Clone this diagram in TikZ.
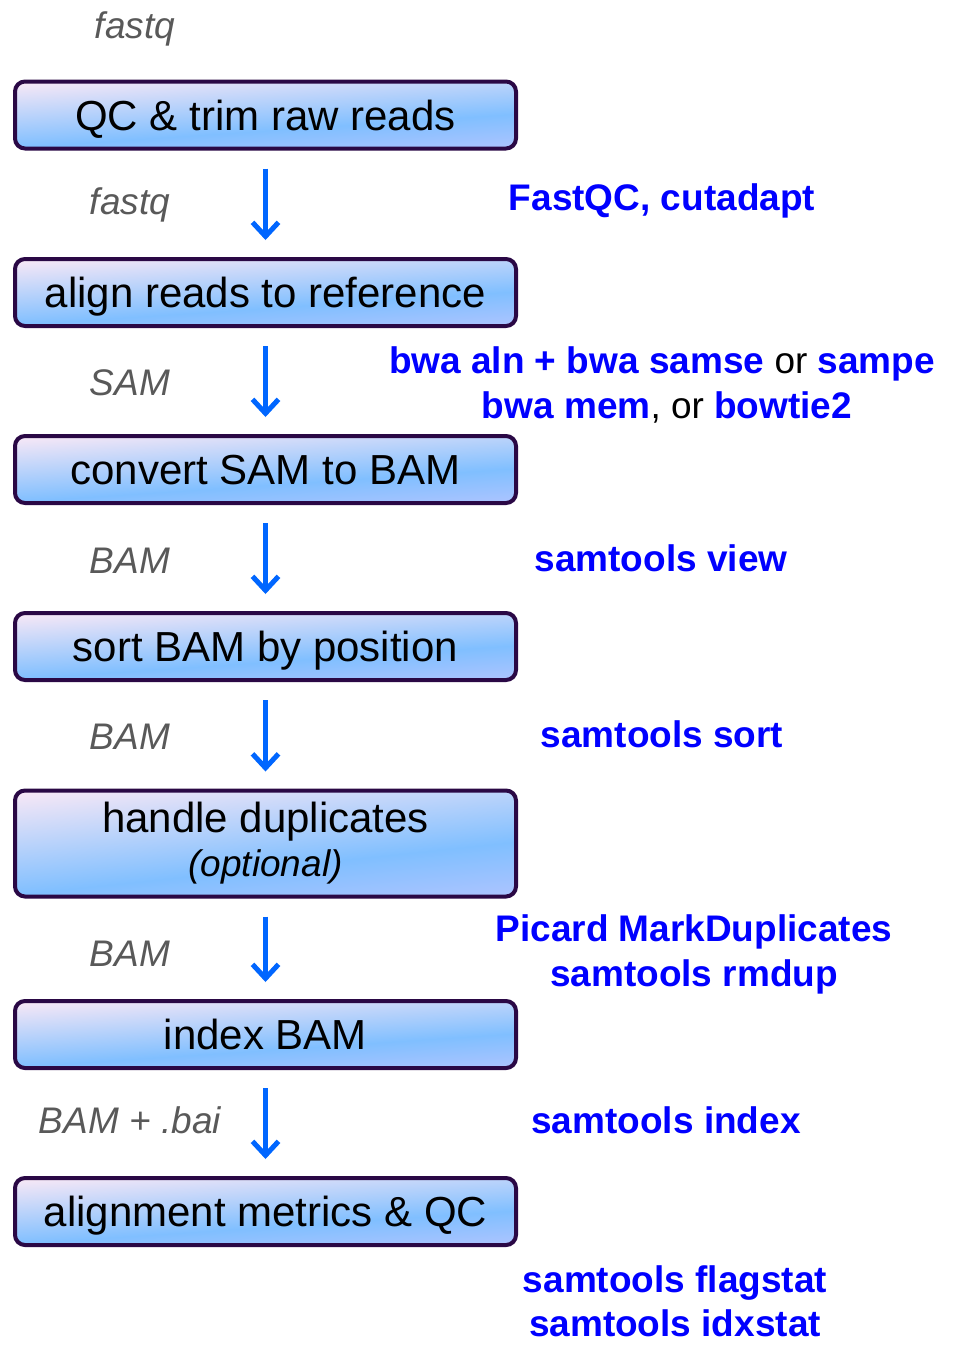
\documentclass[tikz,border=0pt]{standalone}
\usepackage{fontspec}
\setmainfont{Liberation Sans}
\usetikzlibrary{arrows.meta}
\definecolor{boxborder}{HTML}{2A0845}
\definecolor{arrowblue}{HTML}{0066FF}
\definecolor{toolblue}{HTML}{0000FF}
\definecolor{fmtgray}{HTML}{595959}
\definecolor{shadepink}{HTML}{F8E8F6}
\definecolor{shadeblue}{HTML}{80BFFF}
\definecolor{shadeend}{HTML}{ACC4FF}
\pgfdeclareverticalshading{boxshade}{100bp}{color(0bp)=(shadeend); color(28bp)=(shadeend); color(43bp)=(shadeblue); color(72bp)=(shadepink); color(100bp)=(shadepink)}
\pgfdeclarelayer{bglayer}
\pgfsetlayers{bglayer,main}
\newcommand{\boxshading}[2]{%
  \begin{scope}
    \clip[rounded corners=8pt] ([shift={(2pt,2pt)}]#1.south west) rectangle ([shift={(-2pt,-2pt)}]#1.north east);
    \begin{scope}[transform canvas={shift={(#1.center)}, xscale=5.01, yscale=#2/100, rotate=26.6}]
      \shade[shading=boxshade] (-75pt,-75pt) rectangle (75pt,75pt);
    \end{scope}
  \end{scope}}
\begin{document}
\begin{tikzpicture}[x=1pt,y=-1pt,
  stepbox/.style={draw=boxborder, line width=4pt, rounded corners=10pt,
    minimum width=501pt, minimum height=67pt, inner sep=0pt,
    font=\fontsize{42}{44}\selectfont},
  onebox/.style={stepbox, text height=30pt, text depth=0pt},
  arr/.style={draw=arrowblue, line width=5pt,
    -{Straight Barb[length=14pt,width=26pt]}, shorten <=18pt, shorten >=17pt},
  fmt/.style={font=\fontsize{37}{40}\selectfont\itshape, text=fmtgray, anchor=base, inner sep=0pt},
  tool/.style={font=\fontsize{37}{40}\selectfont\bfseries, text=toolblue, anchor=base, inner sep=0pt}
]
\useasboundingbox (0,0) rectangle (955,1345);

% boxes
\node[onebox] (b1) at (265.5,115) {QC \& trim raw reads};
\node[onebox] (b2) at (265.5,292.5) {align reads to reference};
\node[onebox] (b3) at (265.5,469.5) {convert SAM to BAM};
\node[onebox] (b4) at (265.5,646.5) {sort BAM by position};
\node[stepbox, minimum height=106pt, align=center] (b5) at (265.5,843.5)
  {handle duplicates\\[0pt]{\fontsize{37}{44}\selectfont\itshape (optional)}};
\node[onebox] (b6) at (265.5,1034.5) {index BAM};
\node[onebox] (b7) at (265.5,1211.5) {alignment metrics \& QC};

\begin{pgfonlayer}{bglayer}
  \boxshading{b1}{67}
  \boxshading{b2}{67}
  \boxshading{b3}{67}
  \boxshading{b4}{67}
  \boxshading{b5}{106}
  \boxshading{b6}{67}
  \boxshading{b7}{67}
\end{pgfonlayer}

% arrows
\draw[arr] (b1) -- (b2);
\draw[arr] (b2) -- (b3);
\draw[arr] (b3) -- (b4);
\draw[arr] (b4) -- (b5);
\draw[arr] (b5) -- (b6);
\draw[arr] (b6) -- (b7);

% format labels
\node[fmt] (f0) at (135,38) {fastq};
\node[fmt] (f1) at (130,214) {fastq};
\node[fmt] (f2) at (130,395) {SAM};
\node[fmt] (f3) at (130,573) {BAM};
\node[fmt] (f4) at (130,749) {BAM};
\node[fmt] (f5) at (130,966) {BAM};
\node[fmt] (f6) at (130,1133) {BAM + .bai};

% tool labels
\node[tool] (t1) at (662,210) {FastQC, cutadapt};
\node[tool] (t2a) at (662,373) {bwa aln + bwa samse \textcolor{black}{\mdseries or} sampe};
\node[tool] (t2b) at (667,418) {bwa mem\textcolor{black}{\mdseries , or} bowtie2};
\node[tool] (t3) at (661,571) {samtools view};
\node[tool] (t4) at (662,747) {samtools sort};
\node[tool] (t5a) at (694,941) {Picard MarkDuplicates};
\node[tool] (t5b) at (694,986) {samtools rmdup};
\node[tool] (t6) at (666,1133) {samtools index};
\node[tool] (t7a) at (675,1292) {samtools flagstat};
\node[tool] (t7b) at (675,1336) {samtools idxstat};
\end{tikzpicture}
\end{document}
